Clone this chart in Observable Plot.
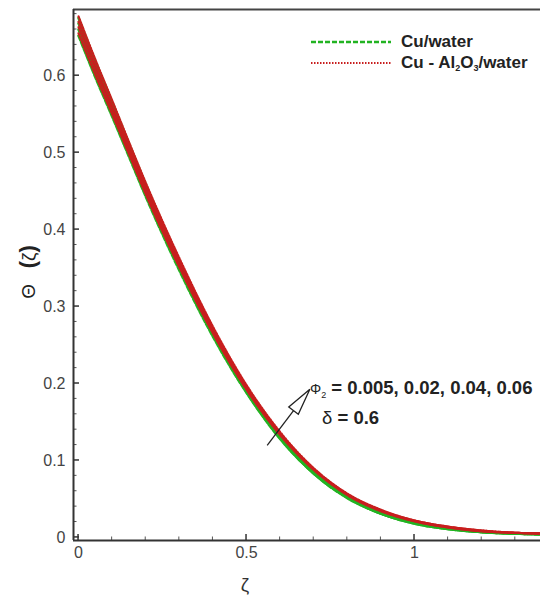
<!DOCTYPE html>
<html>
<head>
<meta charset="utf-8">
<script src="https://cdn.jsdelivr.net/npm/d3@7"></script>
<script src="https://cdn.jsdelivr.net/npm/@observablehq/plot@0.6"></script>
<style>
  html, body { margin: 0; padding: 0; background: #fff; }
  #wrap { position: relative; width: 540px; height: 606px; font-family: "Liberation Sans", Arial, sans-serif; }
  .leg { position: absolute; font-weight: bold; font-size: 17px; color: #222; white-space: nowrap; line-height: 1; }
  .ann { position: absolute; font-weight: bold; font-size: 18.5px; color: #222; white-space: nowrap; line-height: 1; }
  .ylab { position: absolute; left: 28px; top: 272px; transform: translate(-50%, -50%) rotate(-90deg); font-size: 19px; color: #222; white-space: nowrap; }
  .xlab { position: absolute; left: 245px; top: 585px; transform: translate(-50%, -50%); font-size: 19px; color: #333; }
</style>
</head>
<body>
<div id="wrap"></div>
<script>
// ---- data ----
const zeta = [0, 0.05, 0.1, 0.15, 0.2, 0.3, 0.4, 0.5, 0.6, 0.7, 0.8, 0.9, 1.0, 1.1, 1.2, 1.3, 1.4];
const phi2Values = ["0.005", "0.02", "0.04", "0.06"];
// Cu/water, one array per phi2
const cuWater1 = [0.675,0.619,0.566,0.512,0.459,0.360,0.270,0.194,0.132,0.085,0.053,0.032,0.019,0.012,0.007,0.005,0.004];
const cuWater2 = [0.668,0.612,0.559,0.506,0.453,0.355,0.266,0.191,0.130,0.084,0.052,0.031,0.019,0.011,0.007,0.005,0.004];
const cuWater3 = [0.660,0.605,0.553,0.500,0.448,0.351,0.263,0.189,0.129,0.083,0.052,0.031,0.018,0.011,0.007,0.005,0.004];
const cuWater4 = [0.652,0.598,0.547,0.495,0.443,0.347,0.261,0.188,0.128,0.083,0.051,0.031,0.018,0.011,0.007,0.005,0.004];
// Cu - Al2O3/water
const hybrid1 = [0.677,0.621,0.568,0.514,0.461,0.363,0.274,0.198,0.137,0.090,0.057,0.036,0.022,0.014,0.009,0.006,0.005];
const hybrid2 = [0.670,0.614,0.561,0.508,0.456,0.359,0.271,0.196,0.135,0.089,0.056,0.035,0.022,0.014,0.009,0.006,0.005];
const hybrid3 = [0.663,0.608,0.556,0.503,0.451,0.355,0.268,0.194,0.134,0.088,0.056,0.035,0.021,0.013,0.008,0.006,0.005];
const hybrid4 = [0.655,0.601,0.550,0.498,0.446,0.351,0.265,0.192,0.133,0.088,0.055,0.034,0.021,0.013,0.008,0.006,0.005];
const xMajorTicks = [0, 0.5, 1];
const xMinorTicks = [0.1,0.2,0.3,0.4,0.6,0.7,0.8,0.9,1.1,1.2,1.3];
const yMajorTicks = [0, 0.1, 0.2, 0.3, 0.4, 0.5, 0.6];
const yMinorTicks = [0.02,0.04,0.06,0.08,0.12,0.14,0.16,0.18,0.22,0.24,0.26,0.28,0.32,0.34,0.36,0.38,0.42,0.44,0.46,0.48,0.52,0.54,0.56,0.58,0.62,0.64,0.66,0.68];
const xDomain = [-0.015, 1.375];
const yDomain = [-0.004, 0.686];
// annotation arrow (tail -> tip), data coordinates
const arrowPts = [{x: 0.563, y: 0.119}, {x: 0.69, y: 0.192}];

const cuSeries = [cuWater1, cuWater2, cuWater3, cuWater4];
const hySeries = [hybrid1, hybrid2, hybrid3, hybrid4];
const rows = [];
cuSeries.forEach((arr, k) => arr.forEach((v, i) => rows.push({phi: phi2Values[k], x: zeta[i], y: v})));
const hyRows = [];
hySeries.forEach((arr, k) => arr.forEach((v, i) => hyRows.push({phi: phi2Values[k], x: zeta[i], y: v})));

// inward tick marks (pixel lengths) drawn through the scales
function inwardTicks(values, dim, len, stroke, width) {
  return (index, scales) => {
    const g = d3.create("svg:g").attr("stroke", stroke).attr("stroke-width", width);
    for (const v of values) {
      if (dim === "y") {
        const y = scales.y(v), x0 = scales.x(xDomain[0]);
        g.append("line").attr("x1", x0).attr("x2", x0 + len).attr("y1", y).attr("y2", y);
      } else {
        const x = scales.x(v), y0 = scales.y(yDomain[0]);
        g.append("line").attr("x1", x).attr("x2", x).attr("y1", y0).attr("y2", y0 - len);
      }
    }
    return g.node();
  };
}

function hollowArrow(data) {
  return (index, scales) => {
    const [a, b] = data;
    const x1 = scales.x(a.x), y1 = scales.y(a.y), x2 = scales.x(b.x), y2 = scales.y(b.y);
    const dx = x2 - x1, dy = y2 - y1, L = Math.hypot(dx, dy);
    const ux = dx / L, uy = dy / L;
    const hl = 27, hw = 6;
    const bx = x2 - ux * hl, by = y2 - uy * hl;
    const g = d3.create("svg:g").attr("fill", "none").attr("stroke", "#222").attr("stroke-width", 1.3);
    g.append("line").attr("x1", x1).attr("y1", y1).attr("x2", bx).attr("y2", by);
    g.append("path").attr("fill", "#fff")
      .attr("d", `M${x2},${y2}L${bx - uy*hw},${by + ux*hw}L${bx + uy*hw},${by - ux*hw}Z`);
    return g.node();
  };
}

const chart = Plot.plot({
  width: 540,
  height: 606,
  marginLeft: 73,
  marginTop: 9,
  marginBottom: 66,
  marginRight: 0,
  x: {domain: xDomain},
  y: {domain: yDomain},
  style: {fontFamily: "Liberation Sans, Arial, sans-serif", fontSize: "16px", color: "#444", background: "#fff"},
  marks: [
    Plot.axisY(yMajorTicks, {tickSize: 0, tickFormat: d => d === 0 ? "0" : d3.format(".1f")(d), fontSize: 16, tickPadding: 8, label: null}),
    Plot.axisX(xMajorTicks, {tickSize: 0, tickFormat: d => d === 0 ? "0" : String(d), fontSize: 16, tickPadding: 6, label: null}),
    Plot.line(rows, {x: "x", y: "y", z: "phi", curve: "monotone-x", stroke: "#22b322", strokeWidth: 2.6, strokeDasharray: "5,2"}),
    Plot.line(hyRows, {x: "x", y: "y", z: "phi", curve: "monotone-x", stroke: "#c81e1e", strokeWidth: 2.2, strokeDasharray: "1.5,1.5"}),
    inwardTicks(yMajorTicks, "y", 6, "#333", 1.5),
    inwardTicks(yMinorTicks, "y", 3.5, "#555", 1),
    inwardTicks(xMajorTicks, "x", 6, "#333", 1.5),
    inwardTicks(xMinorTicks, "x", 3.5, "#555", 1),
    Plot.ruleY([yDomain[0]], {stroke: "#333", strokeWidth: 2}),
    Plot.ruleY([yDomain[1]], {stroke: "#444", strokeWidth: 2}),
    Plot.ruleX([xDomain[0]], {stroke: "#333", strokeWidth: 2}),
    hollowArrow(arrowPts)
  ]
});

const wrap = document.getElementById("wrap");
wrap.appendChild(chart);

// legend
const legendItems = [
  {label: "Cu/water", color: "#22b322", dash: "5,2", width: 2.6, top: 42},
  {label: "Cu - Al<sub>2</sub>O<sub>3</sub>/water", color: "#c81e1e", dash: "1.5,1.5", width: 2.2, top: 63}
];
legendItems.forEach(it => {
  const s = d3.select(wrap).append("svg").style("position", "absolute").style("left", "310px").style("top", (it.top - 3) + "px")
    .attr("width", 82).attr("height", 6);
  s.append("line").attr("x1", 1).attr("x2", 81).attr("y1", 3).attr("y2", 3)
    .attr("stroke", it.color).attr("stroke-width", it.width).attr("stroke-dasharray", it.dash);
  d3.select(wrap).append("div").attr("class", "leg").style("left", "401px").style("top", (it.top - 9) + "px").html(it.label);
});
d3.selectAll(".leg sub").style("font-size", "9px").style("vertical-align", "-3px");

// annotation
d3.select(wrap).append("div").attr("class", "ann").style("left", "310px").style("top", "379px")
  .html(`<span style="font-weight:normal;font-size:14px">Φ<sub style="font-size:9px">2</sub></span> = ${phi2Values.join(", ")}`);
d3.select(wrap).append("div").attr("class", "ann").style("left", "322px").style("top", "409px")
  .html(`<span style="font-weight:normal">δ</span> = 0.6`);

// axis titles
d3.select(wrap).append("div").attr("class", "ylab").html(`Θ&nbsp;&nbsp;&nbsp;<b style="font-size:22px">(</b>ζ<b style="font-size:22px">)</b>`);
d3.select(wrap).append("div").attr("class", "xlab").text("ζ");
</script>
</body>
</html>
